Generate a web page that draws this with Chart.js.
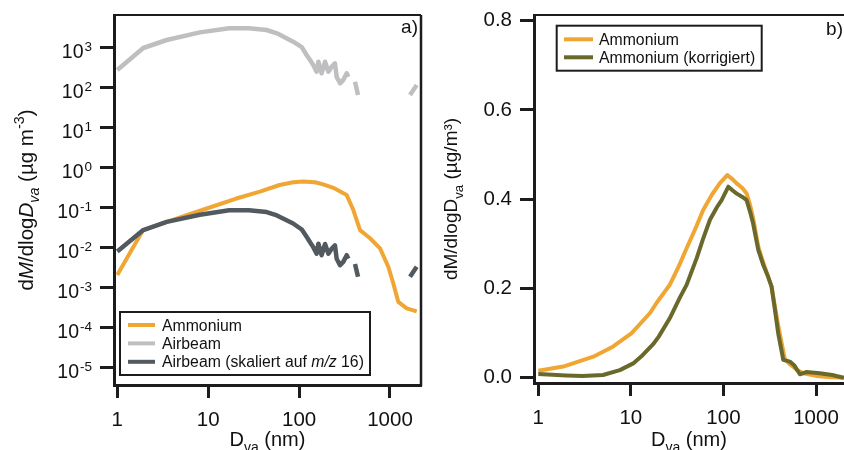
<!DOCTYPE html>
<html>
<head>
<meta charset="utf-8">
<script src="https://cdn.jsdelivr.net/npm/chart.js@4/dist/chart.umd.min.js"></script>
<style>
  html, body { margin: 0; padding: 0; background: #fff; overflow: hidden; }
  #wrap { position: relative; width: 844px; height: 450px; }
  #pa { position: absolute; left: 0; top: 0; width: 430px; height: 450px; }
  #pb { position: absolute; left: 430px; top: 0; width: 414px; height: 450px; }
</style>
</head>
<body>
<div id="wrap">
  <div id="pa"><canvas id="ca" width="430" height="450"></canvas></div>
  <div id="pb"><canvas id="cb" width="414" height="450"></canvas></div>
</div>
<script>
// ---------- Panel a: mass size distributions (log-log) ----------
// vacuum aerodynamic diameter, nm (null values break the trace)
const diamAirbeam = [1.0, 1.93, 3.5, 8.1, 17, 28, 44, 57, 86, 107, 121, 132, 143, 156, 163, 177,
  193, 210, 228, 248, 259, 282, 306, 334, 348, 380, 412, 445, 1200, 1660, 1967];
const airbeam = [282, 1000, 1585, 2460, 3110, 3110, 2820, 2330, 1440, 1050, 670, 500, 376, 255, 455, 233,
  455, 255, 340, 414, 190, 131, 158, 233, 190, null, 143, 67, null, 67, 119];
const airbeamScaled = [0.0082, 0.028, 0.045, 0.068, 0.088, 0.088, 0.079, 0.065, 0.041, 0.029, 0.019, 0.014,
  0.0105, 0.0072, 0.0128, 0.0066, 0.0126, 0.0072, 0.0096, 0.0117, 0.0054, 0.0037, 0.0045, 0.0066, 0.0054,
  null, 0.0040, 0.0019, null, 0.0019, 0.0034];

const diamNH4a = [1, 1.92, 5, 10, 20, 37, 61, 86, 111, 150, 184, 238, 300, 334, 395, 468, 603, 777,
  958, 1087, 1234, 1527, 1967];
const nh4a = [0.0021, 0.028, 0.059, 0.10, 0.17, 0.256, 0.376, 0.44, 0.457, 0.44, 0.39, 0.32, 0.24, 0.21,
  0.089, 0.028, 0.0175, 0.0098, 0.0034, 0.0013, 0.00045, 0.00031, 0.00026];

// ---------- Panel b: ammonium, raw and corrected (linear y) ----------
const diamNH4b = [1, 1.86, 3.93, 6.45, 10.2, 16.1, 19, 26.3, 33, 40, 50, 60.4, 75, 91.6, 110, 125, 138,
  160, 178, 195, 209, 238, 265, 293, 331, 346, 390, 458, 522, 618, 728, 1000, 1500, 2000];
const nh4b = [0.0157, 0.025, 0.047, 0.07, 0.1, 0.145, 0.168, 0.208, 0.25, 0.29, 0.335, 0.376, 0.41,
  0.436, 0.454, 0.445, 0.436, 0.425, 0.413, 0.385, 0.358, 0.294, 0.262, 0.236, 0.204, 0.18, 0.118,
  0.043, 0.03, 0.018, 0.01, 0.004, 0.001, 0.0];

const diamNH4corr = [1, 2, 3, 5, 7.6, 10.6, 13, 17.4, 20, 26.3, 33.9, 40, 51.4, 60, 71.5, 85, 95.6, 113,
  125, 138, 160, 178, 195, 209, 238, 270, 304, 331, 360, 390, 443, 522, 580, 670, 793, 1097, 1500, 2000];
const nh4corr = [0.008, 0.005, 0.004, 0.006, 0.017, 0.032, 0.048, 0.075, 0.092, 0.133, 0.18, 0.208,
  0.268, 0.31, 0.354, 0.382, 0.398, 0.428, 0.42, 0.413, 0.405, 0.398, 0.37, 0.346, 0.286, 0.252, 0.226,
  0.204, 0.152, 0.10, 0.04, 0.036, 0.028, 0.0076, 0.013, 0.01, 0.006, 0.0];

// ---------- Axis ticks ----------
const xTickValues = [1, 10, 100, 1000];
const yExponentsA = [-5, -4, -3, -2, -1, 0, 1, 2, 3];
const yTickValuesB = [0, 0.2, 0.4, 0.6, 0.8];

// ---------- Styling ----------
const FONT = "'Liberation Sans', Arial, Helvetica, sans-serif";
const INK = '#1c1c1c';
const ORANGE = '#f0a633';
const LIGHT = '#bfbfc1';
const DARK = '#535a5f';
const OLIVE = '#6a692c';

function pairs(xs, ys) { return xs.map((x, i) => ({ x: x, y: ys[i] })); }
function font(size, italic) { return (italic ? 'italic ' : '') + size + 'px ' + FONT; }

// text made of segments: {t, it (italic), pos: 'sub' | 'sup'}
function richWidth(ctx, segs, size) {
  let w = 0;
  segs.forEach(s => {
    ctx.font = font(s.pos ? size * 0.7 : size, s.it);
    w += ctx.measureText(s.t).width;
  });
  return w;
}
function drawRich(ctx, segs, x, y, size, align) {
  const w = richWidth(ctx, segs, size);
  let cx = align === 'center' ? x - w / 2 : (align === 'right' ? x - w : x);
  ctx.textAlign = 'left';
  ctx.textBaseline = 'alphabetic';
  segs.forEach(s => {
    const fs = s.pos ? size * 0.7 : size;
    ctx.font = font(fs, s.it);
    const dy = s.pos === 'sub' ? size * 0.28 : (s.pos === 'sup' ? -size * 0.42 : 0);
    ctx.fillText(s.t, cx, y + dy);
    cx += ctx.measureText(s.t).width;
  });
}

function drawLegend(ctx, box, rows) {
  ctx.fillStyle = '#fff';
  ctx.fillRect(box.x, box.y, box.w, box.h);
  ctx.strokeStyle = INK;
  ctx.lineWidth = 2;
  ctx.strokeRect(box.x, box.y, box.w, box.h);
  rows.forEach((r, i) => {
    const ry = box.y + box.first + i * box.step;
    ctx.strokeStyle = r.color;
    ctx.lineWidth = 4;
    ctx.lineCap = 'butt';
    ctx.beginPath();
    ctx.moveTo(box.x + box.s0, ry);
    ctx.lineTo(box.x + box.s1, ry);
    ctx.stroke();
    ctx.fillStyle = '#111';
    drawRich(ctx, r.segs, box.x + box.tx, ry + 5.6, 15.8, 'left');
  });
}

function decor(cfg) {
  return {
    id: 'decor',
    afterDraw(chart) {
      const { ctx, chartArea: a } = chart;
      const ys = chart.scales.y;
      ctx.save();
      // upper (and right) frame lines
      ctx.strokeStyle = INK;
      ctx.lineWidth = 2;
      ctx.beginPath();
      ctx.moveTo(a.left - 1, a.top);
      ctx.lineTo(a.right, a.top);
      ctx.stroke();
      if (cfg.rightFrame) {
        ctx.lineWidth = 2.5;
        ctx.beginPath();
        ctx.moveTo(a.right, a.top);
        ctx.lineTo(a.right, a.bottom + 1);
        ctx.stroke();
      }
      ctx.fillStyle = '#111';
      // power-of-ten labels
      if (cfg.powerLabels) {
        cfg.powerLabels.forEach(e => {
          const py = ys.getPixelForValue(Math.pow(10, e));
          const sup = String(e);
          ctx.font = font(13.5, false);
          const wSup = ctx.measureText(sup).width;
          const right = 92;
          ctx.textBaseline = 'alphabetic';
          ctx.textAlign = 'right';
          ctx.fillText(sup, right, py + 3.2);
          ctx.font = font(19.5, false);
          ctx.fillText('10', right - wSup - 1, py + 10.4);
        });
      }
      // axis titles
      const cx = (a.left + a.right) / 2;
      drawRich(ctx, [{ t: 'D' }, { t: 'va', pos: 'sub' }, { t: ' (nm)' }], cx, 446, 20, 'center');
      ctx.save();
      ctx.translate(cfg.yTitle.x, (a.top + a.bottom) / 2);
      ctx.rotate(-Math.PI / 2);
      drawRich(ctx, cfg.yTitle.segs, 0, 0, cfg.yTitle.size, 'center');
      ctx.restore();
      // panel letter
      ctx.font = font(19, false);
      ctx.textAlign = 'right';
      ctx.textBaseline = 'alphabetic';
      ctx.fillText(cfg.letter.t, cfg.letter.x, cfg.letter.y);
      drawLegend(ctx, cfg.legend.box, cfg.legend.rows);
      ctx.restore();
    }
  };
}

function xAxis(min, max, height) {
  return {
    type: 'logarithmic', min: min, max: max,
    afterBuildTicks: s => { s.ticks = xTickValues.map(v => ({ value: v })); },
    afterFit: s => { s.height = height; s.paddingLeft = 0; s.paddingRight = 0; },
    ticks: { autoSkip: false, maxRotation: 0, padding: 10, color: '#111',
      font: { family: FONT, size: 20.5 }, callback: v => String(v) },
    grid: { drawOnChartArea: false, drawTicks: true, tickLength: 13, tickWidth: 3, tickColor: INK },
    border: { display: true, width: 3, color: INK }
  };
}

const common = {
  responsive: false,
  animation: false,
  devicePixelRatio: 1,
  spanGaps: false,
  elements: { point: { radius: 0 }, line: { tension: 0, borderJoinStyle: 'round', borderCapStyle: 'butt' } },
  plugins: { legend: { display: false }, tooltip: { enabled: false } }
};

// ---------- Panel a ----------
new Chart(document.getElementById('ca'), {
  type: 'line',
  data: {
    datasets: [
      { label: 'Ammonium', data: pairs(diamNH4a, nh4a), borderColor: ORANGE, borderWidth: 4, order: 1 },
      { label: 'Airbeam', data: pairs(diamAirbeam, airbeam), borderColor: LIGHT, borderWidth: 4.5, order: 2 },
      { label: 'Airbeam (skaliert auf m/z 16)', data: pairs(diamAirbeam, airbeamScaled), borderColor: DARK, borderWidth: 4.5, order: 0 }
    ]
  },
  options: Object.assign({}, common, {
    layout: { padding: { left: 0, top: 15, right: 9, bottom: 0 } },
    scales: {
      x: xAxis(0.92, 2193, 65),
      y: {
        type: 'logarithmic', min: 3.758e-6, max: 6683,
        afterBuildTicks: s => { s.ticks = yExponentsA.map(e => ({ value: Math.pow(10, e) })); },
        afterFit: s => { s.width = 114; s.paddingTop = 0; s.paddingBottom = 0; },
        ticks: { display: false },
        grid: { drawOnChartArea: false, drawTicks: true, tickLength: 14, tickWidth: 3, tickColor: INK },
        border: { display: true, width: 3, color: INK }
      }
    }
  }),
  plugins: [decor({
    rightFrame: true,
    powerLabels: yExponentsA,
    yTitle: { x: 33, size: 20.5, segs: [{ t: 'd' }, { t: 'M', it: true }, { t: '/dlog' }, { t: 'D', it: true },
      { t: 'va', it: true, pos: 'sub' }, { t: ' (µg m' }, { t: '-3', pos: 'sup' }, { t: ')' }] },
    letter: { t: 'a)', x: 418, y: 33 },
    legend: {
      box: { x: 120, y: 312, w: 250, h: 63, first: 13, step: 18.4, s0: 8, s1: 35, tx: 42 },
      rows: [
        { color: ORANGE, segs: [{ t: 'Ammonium' }] },
        { color: LIGHT, segs: [{ t: 'Airbeam' }] },
        { color: DARK, segs: [{ t: 'Airbeam (skaliert auf ' }, { t: 'm/z', it: true }, { t: ' 16)' }] }
      ]
    }
  })]
});

// ---------- Panel b ----------
new Chart(document.getElementById('cb'), {
  type: 'line',
  data: {
    datasets: [
      { label: 'Ammonium', data: pairs(diamNH4b, nh4b), borderColor: ORANGE, borderWidth: 4, order: 1 },
      { label: 'Ammonium (korrigiert)', data: pairs(diamNH4corr, nh4corr), borderColor: OLIVE, borderWidth: 4, order: 0 }
    ]
  },
  options: Object.assign({}, common, {
    layout: { padding: { left: 0, top: 15, right: 0, bottom: 0 } },
    scales: {
      x: xAxis(0.8986, 2006, 67),
      y: {
        type: 'linear', min: -0.0119, max: 0.8128,
        afterBuildTicks: s => { s.ticks = yTickValuesB.map(v => ({ value: v })); },
        afterFit: s => { s.width = 104; s.paddingTop = 0; s.paddingBottom = 0; },
        ticks: { padding: 8, color: '#111', font: { family: FONT, size: 20.5 }, callback: v => v.toFixed(1) },
        grid: { drawOnChartArea: false, drawTicks: true, tickLength: 14, tickWidth: 3, tickColor: INK },
        border: { display: true, width: 3, color: INK }
      }
    }
  }),
  plugins: [decor({
    rightFrame: false,
    yTitle: { x: 27.3, size: 19, segs: [{ t: 'dM/dlogD' }, { t: 'va', pos: 'sub' }, { t: ' (µg/m³)' }] },
    letter: { t: 'b)', x: 413, y: 35 },
    legend: {
      box: { x: 126.7, y: 25.7, w: 205, h: 45, first: 13.6, step: 18, s0: 7.3, s1: 36.3, tx: 42.3 },
      rows: [
        { color: ORANGE, segs: [{ t: 'Ammonium' }] },
        { color: OLIVE, segs: [{ t: 'Ammonium (korrigiert)' }] }
      ]
    }
  })]
});
</script>
</body>
</html>
